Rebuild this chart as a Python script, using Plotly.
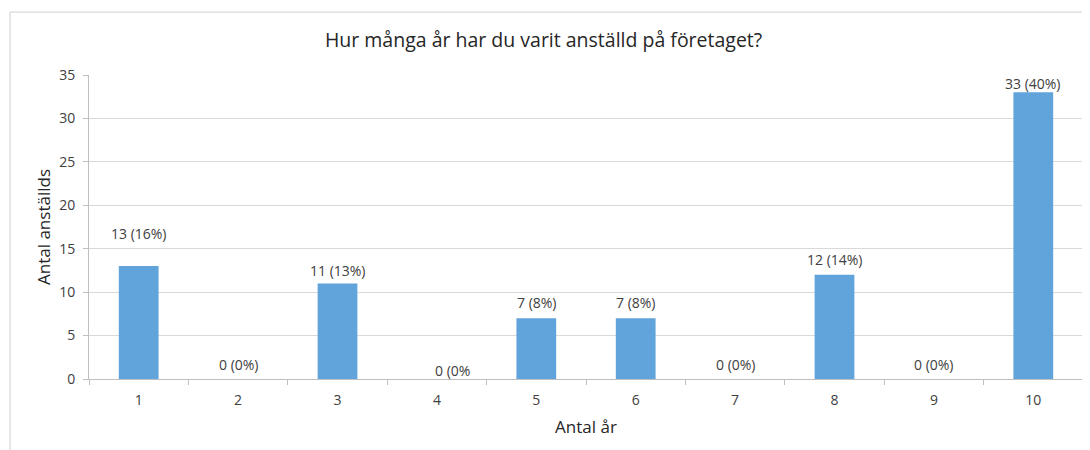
import plotly.graph_objects as go

categories = ["1", "2", "3", "4", "5", "6", "7", "8", "9", "10"]
counts = [13, 0, 11, 0, 7, 7, 0, 12, 0, 33]
labels = ["13 (16%)", "0 (0%)", "11 (13%)", "0 (0%", "7 (8%)", "7 (8%)",
          "0 (0%)", "12 (14%)", "0 (0%)", "33 (40%)"]
label_yshift = [33, 15, 13, 9, 16, 16, 15, 15, 15, 9]
label_xshift = [0, 0, 0, 16, 0, 0, 0, 0, 0, 0]
y_ticks = [0, 5, 10, 15, 20, 25, 30, 35]

FONT = "Open Sans, Liberation Sans, sans-serif"

fig = go.Figure()
fig.add_trace(go.Bar(
    x=categories, y=counts, width=0.4,
    marker=dict(color="#61A4DB", line=dict(width=0)),
    hoverinfo="skip",
))

for i, (v, t, ys, xs) in enumerate(zip(counts, labels, label_yshift, label_xshift)):
    fig.add_annotation(x=i, y=v, xref="x", yref="y", text=t, showarrow=False,
                       yanchor="middle", yshift=ys, xshift=xs,
                       font=dict(family=FONT, size=14, color="#404040"))

# outer chart border (left and top edges visible)
fig.add_shape(type="line", xref="paper", yref="paper", x0=-0.0795, x1=-0.0795,
              y0=-0.3, y1=1.207, line=dict(color="#CFCFCF", width=1))
fig.add_shape(type="line", xref="paper", yref="paper", x0=-0.0795, x1=1.01,
              y0=1.207, y1=1.207, line=dict(color="#CFCFCF", width=1))

fig.update_layout(
    width=1082, height=442,
    margin=dict(l=81, r=7, t=67, b=71, autoexpand=False),
    paper_bgcolor="white", plot_bgcolor="white",
    showlegend=False,
    title=dict(text="Hur många år har du varit anställd på företaget?",
               x=0.495, xanchor="center", y=0.928, yanchor="middle",
               font=dict(family=FONT, size=19.5, color="#262626")),
    font=dict(family=FONT, size=14, color="#404040"),
    bargap=0.6,
)
fig.update_xaxes(
    type="category", range=[-0.5, 9.5], autorange=False,
    showgrid=False, showline=True, linecolor="#BFBFBF", automargin=False,
    ticks="outside", tickson="boundaries", ticklen=5, tickcolor="#BFBFBF",
    ticklabelstandoff=8,
    tickfont=dict(family=FONT, size=14, color="#404040"),
    title=dict(text="Antal år", font=dict(family=FONT, size=17, color="#262626"), standoff=13),
)
fig.update_yaxes(
    range=[0, 35], tickvals=y_ticks, showgrid=True, gridcolor="#D9D9D9",
    showline=True, linecolor="#BFBFBF", ticks="outside", ticklen=5,
    tickcolor="#BFBFBF", zeroline=False, automargin=False,
    ticklabelstandoff=5,
    tickfont=dict(family=FONT, size=14, color="#404040"),
    title=dict(text="Antal anställds", font=dict(family=FONT, size=17, color="#262626"), standoff=4),
)

fig.write_html("out.html")
